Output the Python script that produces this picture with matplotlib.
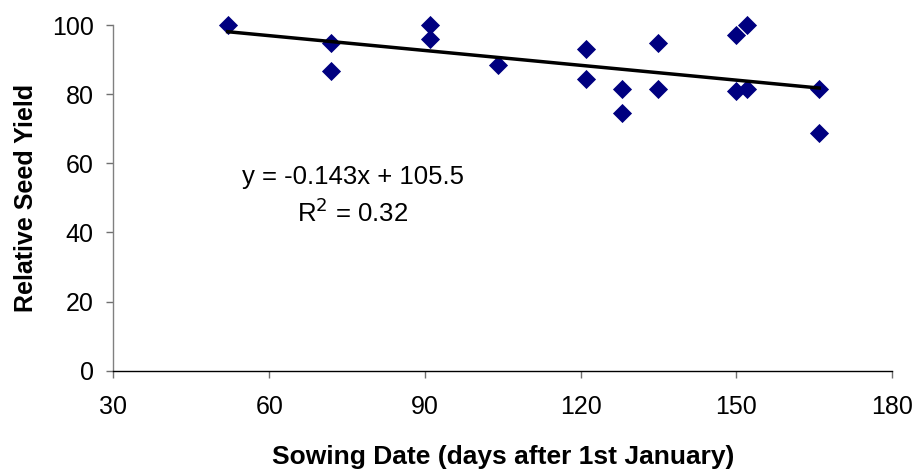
import matplotlib
matplotlib.use("Agg")
import matplotlib.pyplot as plt
import numpy as np

plt.rcParams['font.family'] = ['Liberation Sans', 'DejaVu Sans']

sowing_day = [52, 72, 72, 91, 91, 104, 121, 121, 128, 128, 135, 135, 150, 150, 152, 152, 166, 166]
rel_yield = [100, 94.7, 86.7, 100, 95.9, 88.4, 93.0, 84.3, 81.4, 74.5, 94.8, 81.4, 97.1, 80.8, 100, 81.4, 81.4, 68.7]
slope = -0.143
intercept = 105.5
r_squared = 0.32
x_ticks = [30, 60, 90, 120, 150, 180]
y_ticks = [0, 20, 40, 60, 80, 100]

fig = plt.figure(figsize=(9.16, 4.71), dpi=100)
ax = fig.add_axes([0.1239, 0.2130, 0.8499, 0.7339])

ax.scatter(sowing_day, rel_yield, marker='D', s=95, color='#000080', zorder=3,
           linewidths=0, clip_on=False)
xs = np.array([min(sowing_day), max(sowing_day)])
ax.plot(xs, slope * xs + intercept, color='black', lw=2.5, zorder=4, clip_on=False)

ax.set_xlim(30, 180)
ax.set_ylim(0, 100)
ax.set_xticks(x_ticks)
ax.set_yticks(y_ticks)
ax.tick_params(labelsize=18, length=5.2, width=1, direction='out', color='#707070')
ax.tick_params(axis='x', pad=12)
ax.tick_params(axis='y', pad=9)
for s in ['top', 'right']:
    ax.spines[s].set_visible(False)
for s in ['left', 'bottom']:
    ax.spines[s].set_linewidth(1)
ax.spines['left'].set_color('#808080')
ax.spines['bottom'].set_color('black')

ax.set_xlabel('Sowing Date (days after 1st January)', fontsize=19, fontweight='bold', labelpad=19)
ax.set_ylabel('Relative Seed Yield', fontsize=18, fontweight='bold', labelpad=10)

ax.text(76.2, 56.0, f'y = {slope}x + {intercept}', fontsize=18.5, ha='center', va='center')
ax.text(76.0, 45.6, f'R$^2$ = {r_squared}', fontsize=18.5, ha='center', va='center')
ax.patch.set_visible(False)
fig.savefig('out.png', dpi=100)
